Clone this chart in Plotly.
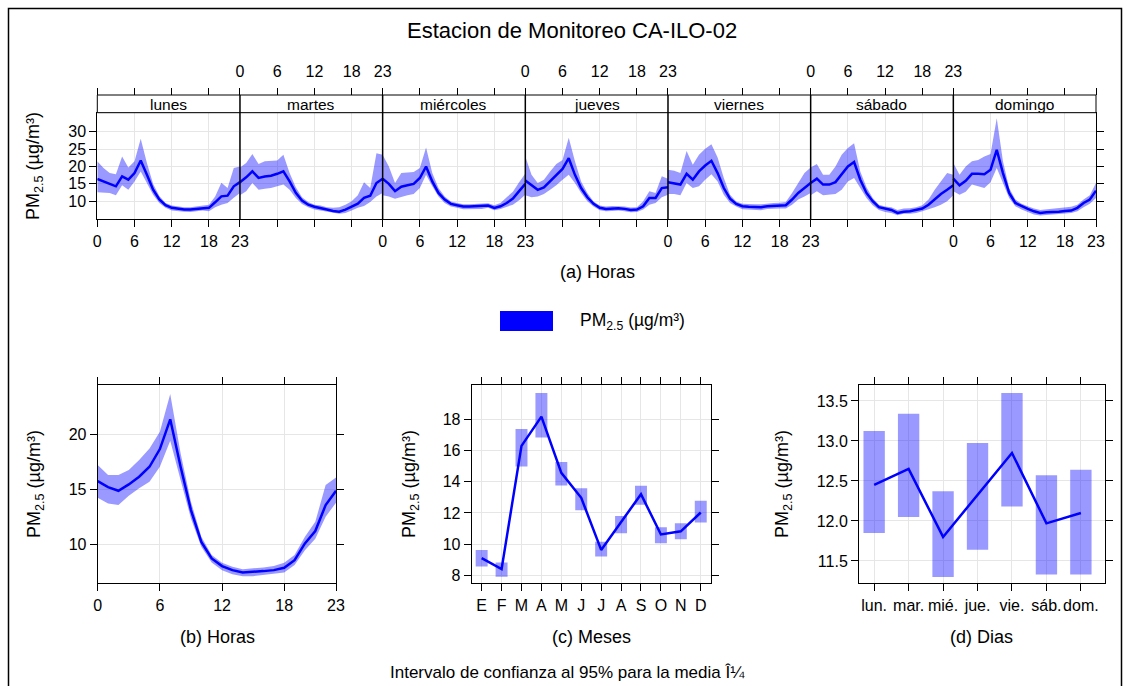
import plotly.graph_objects as go

W, H = 1132, 686

def fx(px):
    return px / W

def fy(py):
    return 1 - py / H

# ---- datos (a) dia-hora ----
dias = ["lunes", "martes", "miércoles", "jueves", "viernes", "sábado", "domingo"]
horas = list(range(24))

semana_media = [
    [16.4, 15.7, 15.06, 14.3, 17.16, 16.2, 18.1, 21.75, 17.6, 13.3, 10.5, 8.85, 8.1, 7.8, 7.6, 7.6, 7.8, 8.0, 8.1, 9.7, 11.4, 11.6, 14.3, 15.5],
    [15.5, 16.9, 18.6, 16.7, 17.1, 17.35, 17.9, 18.6, 15.7, 12.4, 10.2, 9.0, 8.4, 8.1, 7.6, 7.2, 7.0, 7.6, 8.4, 9.3, 10.95, 11.6, 15.25, 16.5],
    [16.5, 15.0, 12.9, 14.2, 14.6, 15.0, 16.7, 20.0, 15.7, 12.4, 10.5, 9.25, 8.85, 8.5, 8.5, 8.55, 8.5, 8.75, 8.1, 8.55, 9.5, 10.75, 12.9, 15.0],
    [16.0, 14.6, 13.3, 14.0, 15.7, 17.6, 19.3, 22.4, 17.6, 13.8, 11.15, 9.25, 8.1, 7.8, 7.9, 8.0, 7.8, 7.5, 7.6, 8.55, 10.95, 10.95, 13.8, 14.0],
    [15.5, 15.15, 14.8, 17.9, 16.2, 18.6, 20.3, 21.65, 18.1, 13.8, 10.75, 9.25, 8.55, 8.4, 8.3, 8.3, 8.55, 8.65, 8.75, 8.85, 10.5, 12.4, 13.8, 15.25],
    [15.25, 16.5, 14.8, 14.8, 15.5, 17.6, 20.0, 21.3, 16.2, 12.4, 10.0, 8.3, 7.8, 7.5, 6.65, 7.0, 7.1, 7.4, 7.9, 9.0, 10.5, 12.1, 13.3, 14.6],
    [16.5, 14.6, 15.9, 17.9, 17.9, 17.8, 19.1, 24.8, 18.1, 12.4, 9.5, 8.55, 7.8, 7.1, 6.65, 6.85, 6.85, 7.0, 7.2, 7.3, 8.1, 9.5, 10.5, 13.05],
]
semana_sup = [
    [21.5, 19.6, 18.1, 17.8, 22.9, 19.7, 21.5, 28.0, 21.0, 15.0, 11.5, 9.5, 8.8, 8.5, 8.3, 8.3, 8.5, 8.8, 9.0, 11.4, 15.3, 13.8, 19.6, 20.0],
    [19.7, 21.0, 23.6, 20.7, 21.5, 21.65, 21.75, 23.4, 18.1, 14.0, 11.15, 9.8, 9.0, 8.8, 8.3, 8.1, 8.3, 9.0, 10.0, 11.7, 15.5, 13.8, 23.85, 23.4],
    [23.4, 20.0, 15.25, 18.1, 18.3, 18.4, 19.55, 25.5, 18.1, 13.8, 11.4, 9.9, 9.5, 9.1, 9.1, 9.2, 9.1, 9.4, 8.85, 9.5, 11.15, 12.7, 15.5, 18.0],
    [22.9, 17.6, 15.25, 16.2, 18.6, 20.7, 21.9, 28.3, 21.5, 15.7, 12.4, 9.9, 8.75, 8.5, 8.6, 8.65, 8.5, 8.2, 8.3, 10.0, 12.9, 12.4, 17.2, 16.5],
    [19.1, 18.8, 18.1, 24.5, 20.5, 23.4, 25.1, 26.4, 22.6, 16.7, 11.9, 9.9, 9.3, 9.1, 9.1, 9.1, 9.4, 9.5, 9.6, 9.8, 12.4, 15.25, 18.1, 19.7],
    [19.7, 20.7, 17.6, 17.6, 20.0, 23.4, 25.3, 26.7, 18.6, 14.0, 10.95, 9.0, 8.5, 8.3, 7.5, 7.9, 8.0, 8.3, 8.85, 10.5, 13.3, 15.7, 18.1, 17.6],
    [21.0, 17.6, 20.0, 21.5, 21.9, 22.9, 23.6, 33.9, 21.5, 13.8, 10.5, 9.3, 8.55, 7.9, 7.5, 7.7, 7.8, 8.1, 8.3, 8.4, 9.0, 10.5, 11.7, 15.25],
]
semana_inf = [
    [12.6, 12.4, 12.4, 11.7, 14.6, 13.3, 15.7, 18.6, 15.3, 11.9, 9.5, 8.1, 7.3, 7.1, 7.0, 6.9, 7.1, 7.3, 7.1, 8.3, 9.0, 9.5, 11.0, 12.4],
    [11.7, 12.9, 15.25, 13.3, 13.6, 13.8, 14.3, 14.8, 13.3, 10.95, 9.2, 8.3, 7.6, 7.3, 6.9, 6.65, 6.4, 6.65, 7.3, 8.1, 8.6, 9.8, 11.4, 12.4],
    [11.7, 11.4, 10.75, 11.15, 11.7, 12.1, 13.8, 17.6, 14.3, 11.4, 9.5, 8.5, 8.1, 7.7, 7.8, 7.8, 7.8, 8.1, 7.4, 7.8, 8.3, 9.0, 10.3, 11.9],
    [11.7, 11.15, 11.4, 12.1, 13.3, 14.6, 16.2, 17.6, 15.25, 12.4, 10.0, 8.5, 7.4, 7.1, 7.2, 7.3, 7.1, 6.85, 6.9, 7.6, 9.0, 9.5, 11.15, 11.9],
    [12.1, 12.1, 11.7, 15.25, 13.8, 14.3, 16.2, 17.8, 15.7, 11.9, 9.5, 8.5, 7.7, 7.5, 7.5, 7.4, 7.8, 7.9, 7.9, 7.9, 9.0, 10.5, 11.4, 12.4],
    [11.7, 12.9, 11.7, 11.9, 12.1, 13.3, 15.7, 16.7, 14.0, 10.95, 8.85, 7.5, 6.9, 6.65, 6.0, 6.4, 6.4, 6.65, 7.1, 7.6, 8.3, 9.0, 10.0, 11.7],
    [12.9, 11.9, 12.7, 14.8, 14.3, 13.8, 15.5, 19.55, 15.25, 10.95, 8.55, 7.6, 6.85, 6.2, 5.9, 6.2, 6.2, 6.4, 6.5, 6.6, 7.1, 8.3, 9.25, 10.95],
]

# ---- datos (b) horas ----
hora_media = [15.74, 15.2, 14.86, 15.44, 16.14, 17.05, 18.66, 21.37, 17.05, 13.1, 10.2, 8.7,
              8.0, 7.63, 7.42, 7.45, 7.54, 7.63, 7.84, 8.54, 10.06, 11.19, 13.56, 14.86]
hora_sup = [17.2, 16.3, 16.3, 16.75, 17.66, 18.72, 20.24, 23.68, 18.27, 13.86, 10.67, 9.0,
            8.3, 7.93, 7.72, 7.78, 7.87, 8.0, 8.3, 9.0, 10.67, 12.04, 15.38, 16.08]
hora_inf = [14.22, 13.7, 13.56, 14.4, 15.08, 15.68, 17.05, 19.42, 15.84, 12.34, 9.76, 8.33,
            7.63, 7.26, 7.08, 7.08, 7.2, 7.3, 7.42, 8.09, 9.45, 10.5, 12.5, 13.77]

# ---- datos (c) meses ----
meses = ["E", "F", "M", "A", "M", "J", "J", "A", "S", "O", "N", "D"]
mes_media = [9.1, 8.4, 16.3, 18.17, 14.57, 12.97, 9.63, 11.4, 13.2, 10.62, 10.82, 12.03]
mes_sup = [9.63, 8.83, 17.38, 19.69, 15.26, 13.59, 10.16, 11.81, 13.74, 11.08, 11.34, 12.78]
mes_inf = [8.56, 7.91, 14.98, 16.84, 13.76, 12.18, 9.2, 10.7, 12.52, 10.06, 10.31, 11.38]

# ---- datos (d) dias ----
dias_cortos = ["lun.", "mar.", "mié.", "jue.", "vie.", "sáb.", "dom."]
dia_media = [12.45, 12.65, 11.80, 12.32, 12.85, 11.97, 12.10]
dia_sup = [13.125, 13.34, 12.37, 12.975, 13.6, 12.57, 12.64]
dia_inf = [11.85, 12.05, 11.30, 11.64, 12.18, 11.33, 11.33]

AZUL = "rgb(0,0,255)"
BANDA = "rgba(0,0,255,0.4)"
GRID = "#e6e6e6"
FONT = "Liberation Sans, Arial, sans-serif"
YLAB = "PM<sub>2.5</sub> (µg/m³)"

fig = go.Figure()

# (a) panel semanal: x continuo = dia*23 + hora
for d in range(7):
    xs = [d * 23 + h for h in horas]
    fig.add_trace(go.Scatter(x=xs + xs[::-1], y=semana_sup[d] + semana_inf[d][::-1],
                             fill="toself", fillcolor=BANDA, line=dict(width=0),
                             mode="lines", hoverinfo="skip", xaxis="x", yaxis="y"))
    fig.add_trace(go.Scatter(x=xs, y=semana_media[d], mode="lines",
                             line=dict(color=AZUL, width=2.5), xaxis="x", yaxis="y"))
fig.add_trace(go.Scatter(x=[0], y=[None], mode="lines", xaxis="x2", yaxis="y"))

# (b)
fig.add_trace(go.Scatter(x=horas + horas[::-1], y=hora_sup + hora_inf[::-1], fill="toself",
                         fillcolor=BANDA, line=dict(width=0), mode="lines", xaxis="x3", yaxis="y3"))
fig.add_trace(go.Scatter(x=horas, y=hora_media, mode="lines", line=dict(color=AZUL, width=2.5),
                         xaxis="x3", yaxis="y3"))

# (c)
mx = list(range(1, 13))
fig.add_trace(go.Bar(x=mx, base=mes_inf, y=[s - i for s, i in zip(mes_sup, mes_inf)], width=0.6,
                     marker=dict(color=BANDA, line=dict(width=0)), xaxis="x4", yaxis="y4"))
fig.add_trace(go.Scatter(x=mx, y=mes_media, mode="lines", line=dict(color=AZUL, width=2.5),
                         xaxis="x4", yaxis="y4"))

# (d)
dx = list(range(1, 8))
fig.add_trace(go.Bar(x=dx, base=dia_inf, y=[s - i for s, i in zip(dia_sup, dia_inf)], width=0.62,
                     marker=dict(color=BANDA, line=dict(width=0)), xaxis="x5", yaxis="y5"))
fig.add_trace(go.Scatter(x=dx, y=dia_media, mode="lines", line=dict(color=AZUL, width=2.5),
                         xaxis="x5", yaxis="y5"))

# ticks del panel semanal
bot_vals, bot_text, top_vals, top_text = [], [], [], []
for d in range(7):
    for h in [0, 6, 12, 18, 23]:
        v = d * 23 + h
        if d % 2 == 0:
            bot_vals.append(v); bot_text.append(str(h))
        elif h in (6, 12, 18):
            bot_vals.append(v); bot_text.append("")
        if d % 2 == 1:
            top_vals.append(v); top_text.append(str(h))
        elif h in (6, 12, 18) or v in (0, 161):
            top_vals.append(v); top_text.append("")

tickfont = dict(family=FONT, size=16, color="black")
base_ax = dict(showline=True, linecolor="black", linewidth=1, ticks="outside", ticklen=7,
               tickcolor="black", gridcolor=GRID, gridwidth=1, zeroline=False, tickfont=tickfont,
               automargin=False, tickangle=0)

top_dom_x = [fx(97.3), fx(1096)]
fig.update_layout(
    xaxis=dict(base_ax, domain=top_dom_x, range=[0, 161], tickmode="array", tickvals=bot_vals,
               ticktext=bot_text, mirror=True, anchor="y"),
    xaxis2=dict(tickfont=tickfont, overlaying="x", anchor="free", position=fy(95), side="top",
                range=[0, 161], tickmode="array", tickvals=top_vals, ticktext=top_text,
                ticks="outside", ticklen=7, tickcolor="black", showgrid=False, showline=False,
                zeroline=False, automargin=False, tickangle=0, ticklabelstandoff=5),
    yaxis=dict(base_ax, domain=[fy(219.3), fy(112.7)], range=[4.8, 35.5], tickvals=[10, 15, 20, 25, 30],
               mirror="ticks", anchor="x"),
    xaxis3=dict(base_ax, domain=[fx(97.7), fx(336)], range=[0, 23], tickvals=[0, 6, 12, 18, 23],
                mirror="ticks", anchor="y3"),
    yaxis3=dict(base_ax, domain=[fy(583.3), fy(385)], range=[6.43, 24.5], tickvals=[10, 15, 20],
                mirror="ticks", anchor="x3"),
    xaxis4=dict(base_ax, domain=[fx(471.7), fx(710.7)], range=[0.5, 12.5], tickvals=mx, ticktext=meses,
                mirror="ticks", anchor="y4"),
    yaxis4=dict(base_ax, domain=[fy(583.3), fy(385)], range=[7.49, 20.2], tickvals=[8, 10, 12, 14, 16, 18],
                mirror="ticks", anchor="x4"),
    xaxis5=dict(base_ax, domain=[fx(859), fx(1105)], range=[0.56, 7.7], tickvals=dx, ticktext=dias_cortos,
                mirror="ticks", anchor="y5"),
    yaxis5=dict(base_ax, domain=[fy(583.3), fy(385)], range=[11.22, 13.7],
                tickvals=[11.5, 12.0, 12.5, 13.0, 13.5], tickformat=".1f", mirror="ticks", anchor="x5"),
)

shapes = []
# tira de dias
shapes.append(dict(type="rect", xref="paper", yref="paper", x0=fx(97.3), x1=fx(1096),
                   y0=fy(112.7), y1=fy(95), line=dict(color="black", width=1), fillcolor="white"))
for d in range(1, 7):
    shapes.append(dict(type="line", xref="x", yref="paper", x0=d * 23, x1=d * 23,
                       y0=fy(219.3), y1=fy(95), line=dict(color="black", width=1.5)))
# leyenda
shapes.append(dict(type="rect", xref="paper", yref="paper", x0=fx(500), x1=fx(553),
                   y0=fy(331), y1=fy(311), line=dict(width=0), fillcolor=AZUL))
# marco exterior
shapes.append(dict(type="rect", xref="paper", yref="paper", x0=fx(8.5), x1=fx(1121.5),
                   y0=fy(700), y1=fy(8.5), line=dict(color="black", width=1.5)))

ann = []
for d, nombre in enumerate(dias):
    ann.append(dict(x=d * 23 + 11.5, y=fy(104), xref="x", yref="paper", text=nombre,
                    xanchor="center", yanchor="middle", showarrow=False,
                    font=dict(family=FONT, size=15.5, color="black")))

def txt(x, y, t, size, angle=0):
    ann.append(dict(x=fx(x), y=fy(y), xref="paper", yref="paper", text=t, showarrow=False,
                    xanchor="center", yanchor="middle", textangle=angle,
                    font=dict(family=FONT, size=size, color="black")))

txt(572, 30, "Estacion de Monitoreo CA-ILO-02", 22)
txt(597, 272, "(a) Horas", 18)
txt(632, 321, YLAB, 17.5)
txt(217, 637, "(b) Horas", 18)
txt(591, 637, "(c) Meses", 18)
txt(982, 637, "(d) Dias", 18)
txt(567, 672, "Intervalo de confianza al 95% para la media Î¼", 17)
txt(35, 166, YLAB, 18, -90)
txt(35, 484, YLAB, 18, -90)
txt(410, 484, YLAB, 18, -90)
txt(783, 484, YLAB, 18, -90)

fig.update_layout(width=W, height=H, margin=dict(l=0, r=0, t=0, b=0), autosize=False,
                  showlegend=False, plot_bgcolor="white", paper_bgcolor="white",
                  shapes=shapes, annotations=ann, font=dict(family=FONT, color="black"))

fig.write_html("out.html", config={"displayModeBar": False},
               post_script="document.body.style.margin='0';")
